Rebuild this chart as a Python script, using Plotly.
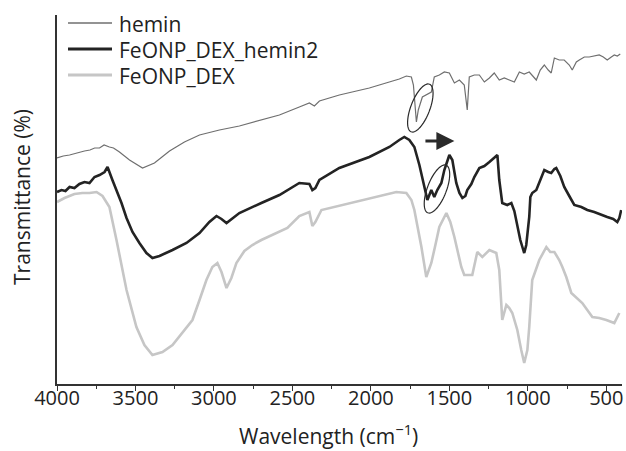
import math
import plotly.graph_objects as go

# ---- data (wavenumber cm^-1, transmittance in arbitrary units) ----
hemin_wn = [4000, 3960, 3920, 3880, 3825, 3790, 3760, 3729, 3700, 3666, 3640, 3602, 3538, 3455,
            3379, 3283, 3188, 3092, 2965, 2838, 2698, 2583, 2456, 2392, 2360, 2328, 2201,
            2010, 1819, 1774, 1742, 1729, 1710, 1698, 1672, 1640, 1615, 1596, 1564, 1532,
            1500, 1468, 1436, 1405, 1386, 1373, 1341, 1309, 1277, 1245, 1214, 1182, 1150,
            1118, 1086, 1054, 1023, 991, 965, 946, 921, 895, 870, 851, 831, 800, 768, 736,
            717, 691, 672, 640, 609, 577, 545, 519, 494, 468, 449, 430, 411]
hemin_t = [226, 228, 229, 231, 233, 234, 236, 236, 239, 237, 236, 232, 224, 216,
           221, 233, 242, 249, 254, 258, 264, 269, 277, 281, 278, 283, 289,
           296, 305, 308, 307, 299, 262, 274, 287, 290, 292, 307, 309, 312,
           311, 301, 304, 299, 274, 307, 309, 309, 302, 306, 311, 304, 306,
           304, 302, 312, 310, 312, 307, 304, 314, 319, 314, 311, 326, 324, 324, 319,
           314, 322, 324, 327, 327, 328, 329, 327, 324, 327, 329, 328, 330]

hemin2_wn = [4000, 3971, 3946, 3920, 3889, 3857, 3825, 3793, 3761, 3729, 3697, 3678, 3647,
             3589, 3557, 3519, 3475, 3430, 3392, 3347, 3264, 3175, 3092, 3029, 2984, 2952,
             2920, 2838, 2698, 2583, 2456, 2392, 2373, 2354, 2328, 2201, 2010, 1882, 1819,
             1787, 1755, 1723, 1691, 1659, 1640, 1615, 1596, 1577, 1551, 1532, 1513, 1500,
             1481, 1456, 1436, 1417, 1398, 1386, 1360, 1341, 1309, 1277, 1245, 1214, 1194,
             1182, 1163, 1131, 1105, 1086, 1067, 1048, 1029, 1023, 1010, 991, 984, 972,
             946, 921, 895, 870, 851, 831, 819, 793, 768, 736, 704, 659, 621, 577, 532,
             494, 456, 430, 417, 405]
hemin2_t = [192, 194, 193, 197, 196, 200, 202, 201, 207, 209, 212, 217, 204,
            181, 166, 152, 141, 131, 126, 128, 134, 141, 151, 162, 168, 165,
            161, 171, 181, 189, 201, 200, 194, 196, 204, 216, 227, 237, 244,
            247, 244, 237, 219, 197, 184, 194, 187, 194, 201, 214, 222, 229,
            224, 201, 191, 186, 188, 194, 200, 207, 216, 218, 222, 226, 229,
            204, 181, 179, 181, 173, 159, 144, 134, 131, 139, 167, 187, 191,
            194, 204, 214, 212, 211, 215, 216, 208, 197, 188, 179, 177, 174, 172, 169,
            167, 165, 162, 166, 174]

dex_wn = [4000, 3952, 3889, 3838, 3793, 3748, 3710, 3666, 3621, 3589, 3557, 3494, 3443,
          3392, 3328, 3264, 3201, 3137, 3092, 3048, 3010, 2978, 2952, 2920, 2889, 2857,
          2806, 2755, 2698, 2532, 2456, 2392, 2373, 2354, 2315, 2137, 1946, 1838, 1774,
          1742, 1723, 1704, 1678, 1647, 1615, 1589, 1564, 1519, 1494, 1468, 1424, 1405,
          1354, 1322, 1290, 1245, 1201, 1182, 1169, 1163, 1137, 1118, 1099, 1067, 1042,
          1023, 1003, 991, 972, 946, 927, 882, 857, 831, 800, 780, 755, 723, 653, 589,
          545, 500, 449, 417]
dex_t = [182, 186, 190, 191, 191, 192, 188, 177, 144, 119, 94, 57, 39,
         29, 32, 39, 51, 64, 84, 104, 117, 121, 112, 96, 106, 121,
         133, 139, 144, 156, 168, 172, 158, 162, 174, 181, 188, 192, 191,
         184, 174, 159, 137, 107, 121, 139, 157, 171, 162, 147, 117, 109,
         109, 132, 127, 134, 131, 114, 77, 64, 79, 76, 71, 54, 34,
         21, 34, 57, 104, 117, 124, 137, 132, 132, 124, 117, 107, 91, 81, 67,
         66, 64, 61, 71]

series_names = ["hemin", "FeONP_DEX_hemin2", "FeONP_DEX"]
series_colors = ["#6f6f6f", "#232323", "#c6c6c6"]
series_widths = [1.2, 2.6, 2.6]
x_ticks = [4000, 3500, 3000, 2500, 2000, 1500, 1000, 500]

FONT = "Open Sans"
ML, MR, MT, MB = 57, 4, 15, 67
W, H = 626, 451
PW, PH = W - ML - MR, H - MT - MB
X0, X1 = 4000, 400
Y0, Y1 = 0, 369
wn_per_px = (X0 - X1) / PW
t_per_px = (Y1 - Y0) / PH


def px_x(px):
    return (px - ML) / PW


def px_y(py):
    return (H - MB - py) / PH


fig = go.Figure()
for wn, tv, nm, col, lw in zip([hemin_wn, hemin2_wn, dex_wn], [hemin_t, hemin2_t, dex_t],
                               series_names, series_colors, series_widths):
    fig.add_trace(go.Scatter(x=wn, y=tv, mode="lines", name=nm,
                             line=dict(color=col, width=lw), showlegend=False))

# legend drawn as line samples + labels, matching the reference's spacing
for i, (nm, col, lw) in enumerate(zip(series_names, series_colors, series_widths)):
    yy = px_y(23 + i * 26)
    fig.add_shape(type="line", xref="paper", yref="paper", x0=px_x(68), x1=px_x(112),
                  y0=yy, y1=yy, line=dict(color=col, width=lw + 0.4))
    fig.add_annotation(text=nm, xref="paper", yref="paper", x=px_x(117), y=px_y(24 + i * 26),
                       xanchor="left", yanchor="middle", showarrow=False,
                       font=dict(family=FONT, size=21, color="#222"))


def ellipse_path(cx, cy, a_px, b_px, tilt_deg, n=72):
    th = math.radians(tilt_deg)
    pts = []
    for i in range(n + 1):
        t = 2 * math.pi * i / n
        u, v = a_px * math.cos(t), b_px * math.sin(t)
        sx = u * math.sin(th) + v * math.cos(th)
        sy = -u * math.cos(th) + v * math.sin(th)
        pts.append((cx - sx * wn_per_px, cy - sy * t_per_px))
    return "M " + " L ".join(f"{x:.2f},{y:.2f}" for x, y in pts) + " Z"


for cx, cy in [(1685, 276), (1579, 195)]:
    fig.add_shape(type="path", xref="x", yref="y", path=ellipse_path(cx, cy, 25.5, 9.5, 21),
                  line=dict(color="#2a2a2a", width=1.2))

fig.add_annotation(x=1468, y=243, ax=1662, ay=243, xref="x", yref="y", axref="x", ayref="y",
                   showarrow=True, arrowhead=2, arrowsize=1.2, arrowwidth=3, arrowcolor="#2a2a2a",
                   text="")

fig.add_annotation(text="Wavelength (cm<sup>−1</sup>)", xref="paper", yref="paper",
                   x=px_x(328.5), y=px_y(434), showarrow=False,
                   font=dict(family=FONT, size=21, color="#222"), xanchor="center", yanchor="middle")
fig.add_annotation(text="Transmittance (%)", xref="paper", yref="paper",
                   x=px_x(22), y=px_y(197), showarrow=False, textangle=-90,
                   font=dict(family=FONT, size=21, color="#222"), xanchor="center", yanchor="middle")

# invisible helper trace so the label axis is drawn
fig.add_trace(go.Scatter(x=[X0, X1], y=[None, None], xaxis="x2", yaxis="y",
                         mode="lines", showlegend=False, hoverinfo="skip"))

fig.update_layout(
    width=W, height=H,
    margin=dict(l=ML, r=MR, t=MT, b=MB),
    paper_bgcolor="white", plot_bgcolor="white",
    font=dict(family=FONT, size=20, color="#222"),
    showlegend=False,
    xaxis=dict(range=[X0, X1], tickvals=x_ticks, showgrid=False, zeroline=False,
               showline=True, linecolor="#333", linewidth=1.5, showticklabels=False,
               ticks="outside", ticklen=5, tickwidth=1.2, tickcolor="#333",
               minor=dict(dtick=250, ticks="outside", ticklen=3, tickwidth=1, tickcolor="#333")),
    xaxis2=dict(range=[X0, X1], tickvals=x_ticks, overlaying="x", side="bottom", anchor="y",
                showgrid=False, zeroline=False, showline=False, ticks="",
                tickfont=dict(family=FONT, size=20, color="#222")),
    yaxis=dict(range=[Y0, Y1], showticklabels=False, showgrid=False, zeroline=False,
               showline=True, linecolor="#333", linewidth=1.5, ticks=""),
)

fig.write_html("out.html")
